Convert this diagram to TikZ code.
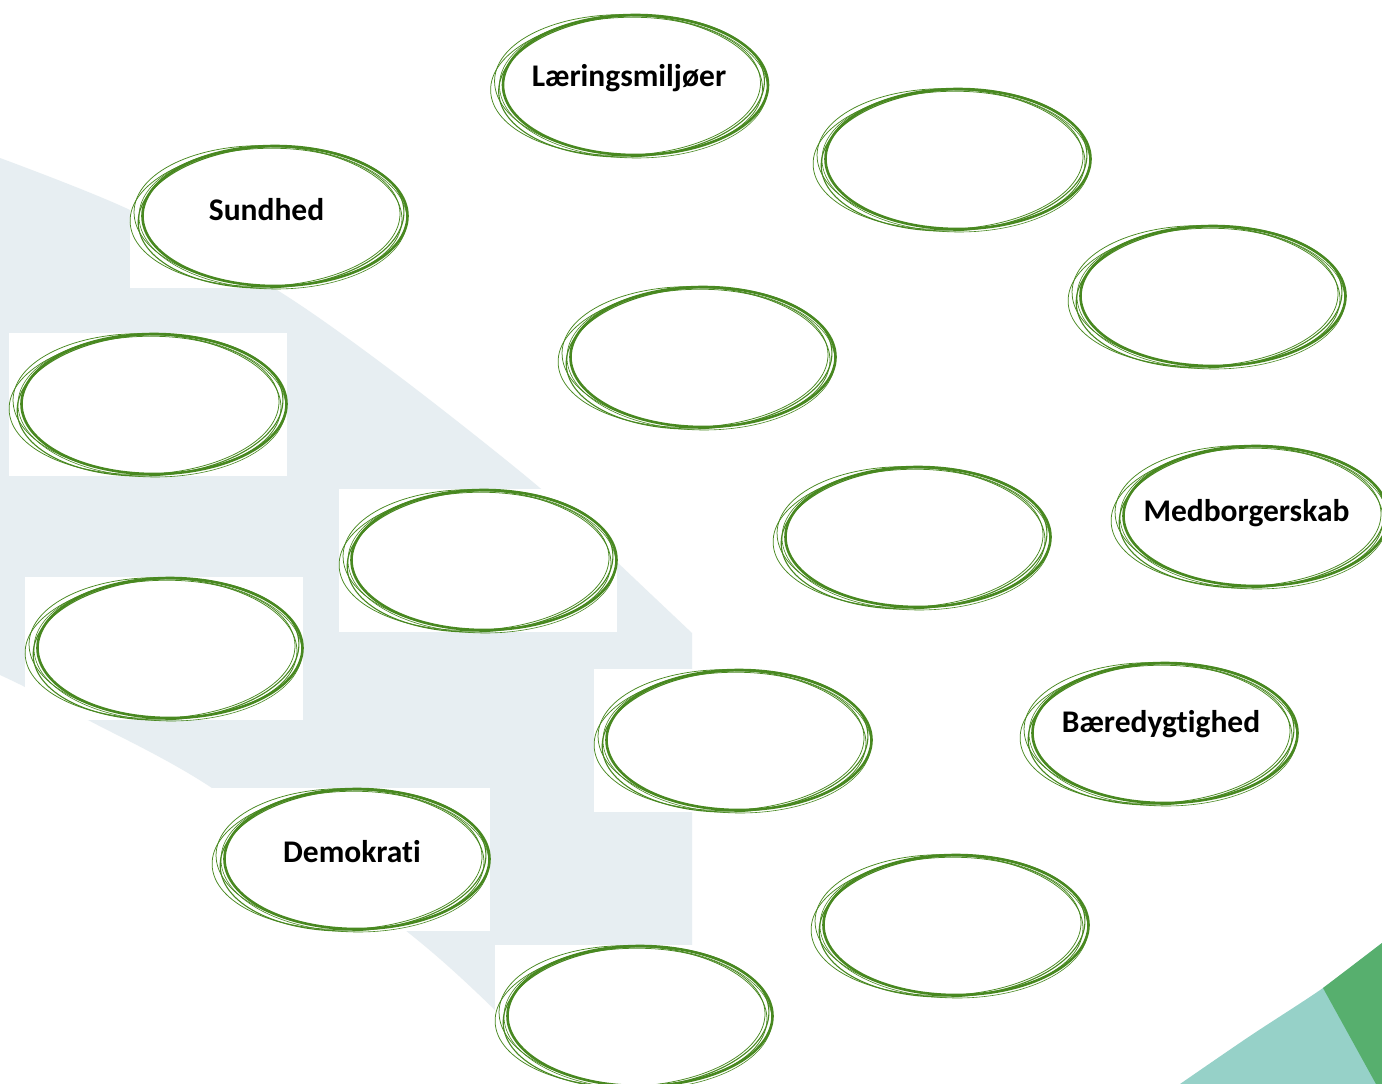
\documentclass[tikz,border=0pt]{standalone}
\usepackage{fontspec}
\setmainfont{Carlito}[Ligatures=NoCommon]
\usetikzlibrary{shapes.geometric}
\definecolor{bandgrey}{RGB}{231,238,242}
\definecolor{cornerteal}{RGB}{150,209,200}
\definecolor{cornergreen}{RGB}{87,175,110}
\definecolor{ovalgreen}{RGB}{72,136,32}
\tikzset{
  oval/.style={ellipse, draw=ovalgreen, line width=2.6pt, minimum width=265pt, minimum height=140pt, inner sep=0pt},
  thinstroke/.style={draw=ovalgreen, line width=0.75pt},
  lbl/.style={font=\fontsize{31.5}{36}\selectfont\bfseries, anchor=base, inner sep=0pt, text=black},
}
\begin{document}
\begin{tikzpicture}[x=1pt,y=-1pt]
\useasboundingbox (0,0) rectangle (1382,1084);
\clip (0,0) rectangle (1382,1084);
\fill[white] (0,0) rectangle (1382,1084);
% background band
\fill[bandgrey] plot[smooth] coordinates {(0,158) (130,210) (277,290) (400,377) (540,488) (617,562) (692,633)}
  -- (692,1084) -- (565,1084)
  -- plot[smooth] coordinates {(565,1084) (497,1012) (405,930) (212,788) (88,720) (25,687) (0,675)} -- cycle;
% bottom-right corner
\fill[cornerteal] plot[smooth] coordinates {(1180,1084) (1250,1036) (1323,988) (1382,943)} -- (1382,1084) -- cycle;
\fill[cornergreen] (1323,988) -- (1382,943) -- (1382,1084) -- (1376,1084) -- cycle;
% white backgrounds
\foreach \x/\y in {629.5/85, 952/159, 269/216, 1207/296, 697/357, 148/404, 912/537, 1250/516, 478/560, 164/648, 733/740, 1159/733, 351/859, 950/925, 634/1016}
  \fill[white] (\x-139,\y-71) rectangle (\x+139,\y+72);
% ovals (main stroke)
\node[oval] (o1) at (635.5,85) {};
\node[oval] (o2) at (958,159) {};
\node[oval] (o3) at (275,216) {};
\node[oval] (o4) at (1213,296) {};
\node[oval] (o5) at (703,357) {};
\node[oval] (o6) at (154,404) {};
\node[oval] (o7) at (918,537) {};
\node[oval] (o8) at (1256,516) {};
\node[oval] (o9) at (484,560) {};
\node[oval] (o10) at (170,648) {};
\node[oval] (o11) at (739,740) {};
\node[oval] (o12) at (1165,733) {};
\node[oval] (o13) at (357,859) {};
\node[oval] (o14) at (956,925) {};
\node[oval] (o15) at (640,1016) {};
% extra sketch strokes
\foreach \n in {o1,o2,o3,o4,o5,o6,o7,o8,o9,o10,o11,o12,o13,o14,o15} {
  \begin{scope}[shift={(\n.center)}]
    \draw[thinstroke, rotate=2] (-10,1) ellipse [x radius=135, y radius=69];
    \draw[thinstroke, rotate=-2] (-7,0) ellipse [x radius=134, y radius=70];
    \draw[thinstroke, line width=1.1pt, rotate=3] (-4,1) ellipse [x radius=133, y radius=70.5];
    \draw[thinstroke, line width=0.6pt, rotate=-1] (-2,2) ellipse [x radius=134, y radius=71];
  \end{scope}
}
% labels
\node[lbl] (t1) at (629,86) {Læringsmiljøer};
\node[lbl] (t3) at (266.5,220) {Sundhed};
\node[lbl] (t8) at (1246.5,521) {Medborgerskab};
\node[lbl] (t12) at (1161,732) {Bæredygtighed};
\node[lbl] (t13) at (352,862) {Demokrati};
\end{tikzpicture}
\end{document}
